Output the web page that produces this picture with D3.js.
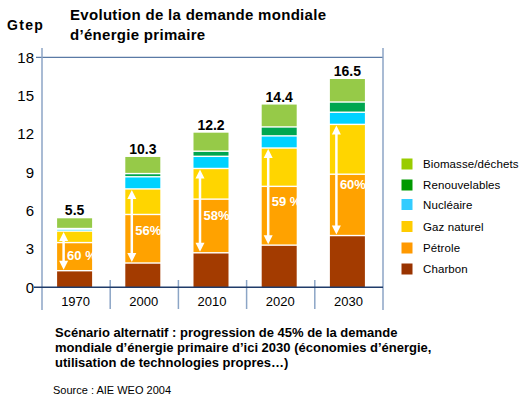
<!DOCTYPE html>
<html><head><meta charset="utf-8">
<script src="https://cdn.jsdelivr.net/npm/d3@7"></script>
<style>
html,body{margin:0;padding:0;background:#fff;}
svg{display:block;font-family:"Liberation Sans",Arial,sans-serif;}
</style></head>
<body>
<svg id="chart" width="524" height="402"></svg>
<script>
const years = ["1970","2000","2010","2020","2030"];
const charbon   = [1.3, 1.9, 2.7, 3.3, 4.05];
const petrole   = [2.2, 3.8, 4.2, 4.6, 4.8];
const gaz       = [0.9, 2.0, 2.4, 3.0, 3.9];
const nucleaire = [0.15, 0.95, 0.95, 0.95, 0.95];
const renouv    = [0.05, 0.25, 0.4, 0.7, 0.8];
const biomasse  = [0.8, 1.3, 1.45, 1.75, 1.8];
const totalLabels = ["5.5","10.3","12.2","14.4","16.5"];
const shareLabels = ["60 %","56%","58%","59 %","60%"];
const yTicks = [0,3,6,9,12,15,18];
const seriesNames = ["Charbon","Pétrole","Gaz naturel","Nucléaire","Renouvelables","Biomasse/déchets"];
const seriesValues = [charbon, petrole, gaz, nucleaire, renouv, biomasse];
const barColors = ["#a33b00","#ffa200","#ffd500","#00d2ff","#00a650","#96ca48"];
const legendColors = ["#993300","#ff9900","#ffcc00","#33ccff","#009900","#99cc00"];

const svg = d3.select("#chart");
const x = d3.scaleBand().domain(years).range([42, 383]).paddingInner(0).paddingOuter(0);
const y = d3.scaleLinear().domain([0, 18]).range([287.3, 57.3]);
const barW = 35;

// Title
svg.append("text").attr("x", 70).attr("y", 19.5).attr("font-size", 15).attr("font-weight", "bold")
  .attr("letter-spacing", 0.3).text("Evolution de la demande mondiale");
svg.append("text").attr("x", 70).attr("y", 39.5).attr("font-size", 15).attr("font-weight", "bold")
  .attr("letter-spacing", 0.3).text("d’énergie primaire");
svg.append("text").attr("x", 7).attr("y", 30).attr("font-size", 14).attr("font-weight", "bold")
  .attr("letter-spacing", 1.3).text("Gtep");

// Frame lines
const g = svg.append("g");
g.append("line").attr("x1", 36).attr("x2", 383).attr("y1", y(18)).attr("y2", y(18)).attr("stroke", "#5a7aa5").attr("stroke-width", 1.2);
[42, 383].forEach(xx => g.append("line").attr("x1", xx).attr("x2", xx).attr("y1", 48).attr("y2", 310)
  .attr("stroke", "#8ca5c6").attr("stroke-width", 1.5));
years.slice(1).forEach(yr => g.append("line").attr("x1", x(yr)).attr("x2", x(yr)).attr("y1", 280).attr("y2", 309)
  .attr("stroke", "#8ca5c6").attr("stroke-width", 1.5));

// Y tick labels
svg.append("g").selectAll("text").data(yTicks).join("text")
  .attr("x", 34).attr("y", d => y(d)).attr("dy", "0.36em").attr("text-anchor", "end")
  .attr("font-size", 15).text(d => d);

// Bars
const stackData = years.map((yr, i) => {
  const o = {year: yr};
  seriesNames.forEach((n, k) => o[n] = seriesValues[k][i]);
  return o;
});
const stack = d3.stack().keys(seriesNames)(stackData);
const barsG = svg.append("g");
stack.forEach((layer, k) => {
  barsG.selectAll(null).data(layer).join("rect")
    .attr("x", d => x(d.data.year) + x.bandwidth()/2 - barW/2 - 1.5)
    .attr("width", barW)
    .attr("y", d => y(d[1]) + (k === seriesNames.length - 1 ? 0 : 0.7))
    .attr("height", d => Math.max(0, y(d[0]) - y(d[1]) - (k === 0 ? 0.7 : 1.4) - (k === seriesNames.length - 1 ? -0.7 : 0)))
    .attr("fill", barColors[k]);
});

// Bottom axis line
svg.append("line").attr("x1", 34).attr("x2", 383).attr("y1", y(0)).attr("y2", y(0)).attr("stroke", "#203c6a").attr("stroke-width", 1.5);

// X labels
svg.append("g").selectAll("text").data(years).join("text")
  .attr("x", d => x(d) + x.bandwidth()/2 - 0.5).attr("y", 306).attr("text-anchor", "middle")
  .attr("font-size", 13).text(d => d);

// Total labels
svg.append("g").selectAll("text").data(years).join("text")
  .attr("x", d => x(d) + x.bandwidth()/2 - 1.5)
  .attr("y", (d, i) => y(d3.sum(seriesValues, s => s[i])) - 3)
  .attr("text-anchor", "middle").attr("font-size", 14).attr("font-weight", "bold")
  .text((d, i) => totalLabels[i]);

// Arrows & share labels
const arrG = svg.append("g");
years.forEach((yr, i) => {
  const ax = x(yr) + x.bandwidth()/2 - barW/2 - 1.5 + 6.5;
  const yBot = y(charbon[i]) - 1;
  const yTop = y(charbon[i] + petrole[i] + gaz[i]) + 1;
  const hh = 9, hw = 4.5;
  arrG.append("line").attr("x1", ax).attr("x2", ax).attr("y1", yTop + hh - 1).attr("y2", yBot - hh + 1)
    .attr("stroke", "#fff").attr("stroke-width", 2.5);
  arrG.append("path").attr("d", `M${ax},${yTop} L${ax - hw},${yTop + hh} L${ax + hw},${yTop + hh} Z`).attr("fill", "#fff");
  arrG.append("path").attr("d", `M${ax},${yBot} L${ax - hw},${yBot - hh} L${ax + hw},${yBot - hh} Z`).attr("fill", "#fff");
  arrG.append("text").attr("x", ax + 3.5).attr("y", (yTop + yBot)/2 + 5 + 4.5)
    .attr("fill", "#fff").attr("font-size", 13).attr("font-weight", "bold").text(shareLabels[i]);
});

// Legend
const legendOrder = [5,4,3,2,1,0];
const legendY = [164, 185, 204.5, 226.5, 248, 269];
const lg = svg.append("g");
legendOrder.forEach((k, j) => {
  lg.append("rect").attr("x", 401.5).attr("y", legendY[j] - 5.5).attr("width", 11).attr("height", 11).attr("fill", legendColors[k]);
  lg.append("text").attr("x", 423).attr("y", legendY[j]).attr("dy", "0.35em").attr("font-size", 11.5)
    .attr("letter-spacing", 0.1).text(seriesNames[k]);
});

// Footnote
const notes = ["Scénario alternatif : progression de 45% de la demande",
  "mondiale d’énergie primaire d’ici 2030 (économies d’énergie,",
  "utilisation de technologies propres…)"];
svg.append("g").selectAll("text").data(notes).join("text")
  .attr("x", 55).attr("y", (d, i) => 337 + i * 15).attr("font-size", 13).attr("font-weight", "bold").text(d => d);
svg.append("text").attr("x", 53).attr("y", 394).attr("font-size", 11).text("Source : AIE WEO 2004");
</script>
</body></html>
